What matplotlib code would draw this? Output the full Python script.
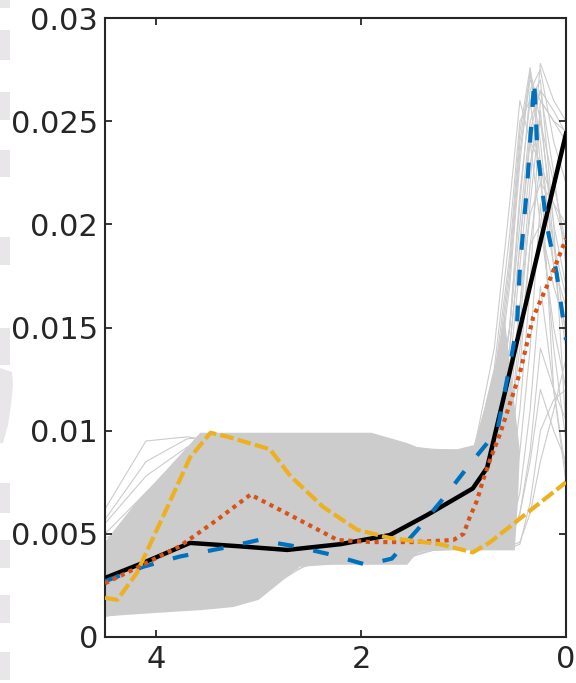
import numpy as np
import matplotlib.pyplot as plt
from matplotlib.patches import Rectangle, Polygon

# mean / model curves (values in units of 1e-3)
x_black = [4.5, 4.13, 3.67, 3.2, 2.72, 2.2, 1.72, 1.36, 0.91, 0.77, 0.0]
y_black = [2.86, 3.59, 4.56, 4.4, 4.22, 4.5, 4.94, 5.9, 7.2, 8.2, 24.4]

x_blue = [4.5, 4.13, 3.77, 3.36, 3.0, 2.65, 2.3, 1.95, 1.7, 1.45, 1.2, 0.95, 0.67,
          0.48, 0.45, 0.38, 0.33, 0.31, 0.28, 0.19, 0.09, 0.0]
y_blue = [2.7, 3.4, 3.9, 4.3, 4.7, 4.4, 4.0, 3.5, 3.8, 5.2, 6.7, 8.3, 10.0,
          15.0, 17.9, 21.8, 25.5, 27.0, 23.6, 20.0, 17.6, 14.4]

x_orange = [4.5, 4.13, 3.77, 3.4, 3.08, 2.69, 2.23, 1.9, 1.5, 1.1, 1.0, 0.94, 0.87,
            0.81, 0.74, 0.64, 0.45, 0.32, 0.16, 0.0]
y_orange = [2.6, 3.5, 4.4, 5.7, 6.9, 5.9, 4.7, 4.6, 4.6, 4.7, 5.0, 5.8, 6.6,
            7.6, 8.6, 9.9, 12.8, 15.5, 17.3, 19.3]

x_yellow = [4.5, 4.38, 4.19, 3.9, 3.67, 3.47, 3.3, 2.89, 2.69, 2.37, 2.04, 1.72,
            1.23, 0.91, 0.74, 0.0]
y_yellow = [1.9, 1.8, 3.1, 6.2, 8.7, 9.9, 9.7, 9.1, 7.8, 6.3, 5.2, 4.8,
            4.5, 4.1, 4.6, 7.5]

# dense gray band of samples: upper edge and lower edge
top_x = [4.5, 4.2, 3.9, 3.57, 3.25, 2.86, 2.6, 2.3, 1.9, 1.55, 1.45, 1.33, 1.06, 0.9,
         0.8, 0.7, 0.6]
top_y = [4.6, 6.5, 8.1, 9.9, 9.9, 9.9, 9.9, 9.9, 9.9, 9.4, 9.2, 9.1, 9.1, 9.3,
         11.0, 13.0, 15.5]
bot_x = [4.5, 4.2, 3.9, 3.57, 3.25, 3.0, 2.8, 2.6, 2.3, 1.9, 1.55, 1.45, 1.33, 1.06,
         0.8, 0.5, 0.47, 0.45]
bot_y = [1.0, 1.1, 1.2, 1.3, 1.45, 1.8, 2.6, 3.4, 3.5, 3.5, 3.5, 4.1, 4.2, 4.2,
         4.2, 4.2, 6.5, 9.0]

# individual gray samples
gx = [4.5, 4.1, 3.7, 3.3, 2.9, 2.5, 2.1, 1.7, 1.3, 0.9, 0.7, 0.55, 0.45, 0.35, 0.25, 0.12, 0.0]
gray_lines = [
    [5.7, 8.5, 9.6, 9.8, 9.7, 9.6, 9.5, 9.0, 8.8, 8.5, 10.5, 15.0, 20.0, 25.0, 26.5, 25.5, 24.4],
    [6.2, 9.5, 9.7, 9.4, 9.0, 8.5, 8.2, 8.0, 7.5, 7.0, 9.0, 13.0, 18.0, 23.0, 25.0, 22.0, 19.0],
    [5.0, 7.0, 8.8, 9.5, 9.2, 8.8, 8.5, 8.2, 8.0, 7.6, 9.5, 15.0, 21.0, 26.5, 27.5, 24.0, 22.0],
    [4.8, 5.5, 7.5, 9.0, 9.6, 9.7, 9.7, 9.4, 9.0, 8.8, 12.0, 18.0, 24.0, 27.3, 24.0, 18.0, 14.0],
    [4.2, 5.0, 6.5, 8.0, 8.5, 8.0, 7.5, 7.0, 6.5, 6.0, 7.5, 11.0, 16.0, 22.0, 27.8, 26.0, 25.0],
    [3.8, 4.8, 6.0, 7.0, 7.5, 7.2, 7.0, 6.8, 6.0, 5.5, 6.5, 10.0, 15.0, 21.0, 25.5, 19.0, 14.5],
    [3.0, 4.0, 5.0, 6.0, 6.5, 6.5, 6.3, 6.0, 5.5, 5.0, 6.0, 8.5, 13.0, 19.0, 23.0, 21.0, 19.0],
    [2.5, 3.5, 4.5, 5.0, 5.5, 5.5, 5.3, 5.2, 5.0, 4.8, 5.2, 7.0, 11.0, 17.0, 26.0, 25.0, 24.0],
    [2.0, 3.0, 3.8, 4.2, 4.5, 4.6, 4.5, 4.4, 4.5, 4.5, 5.0, 6.0, 9.0, 14.0, 21.0, 14.0, 9.5],
    [1.5, 2.2, 3.0, 3.5, 3.8, 4.0, 4.0, 4.0, 4.3, 4.4, 4.5, 5.0, 7.0, 11.0, 17.0, 12.0, 7.5],
    [1.2, 1.8, 2.5, 3.0, 3.5, 3.7, 3.8, 3.8, 4.2, 4.3, 4.3, 4.3, 4.5, 6.5, 10.0, 11.5, 12.0],
    [1.1, 1.5, 2.0, 2.3, 3.4, 3.6, 3.6, 3.6, 4.2, 4.3, 4.4, 4.5, 6.0, 9.0, 14.0, 12.0, 10.5],
    [5.5, 7.8, 9.2, 9.6, 9.8, 9.8, 9.8, 9.3, 9.1, 9.0, 11.0, 17.0, 23.0, 27.5, 25.0, 20.0, 17.0],
    [4.5, 6.0, 8.0, 9.0, 9.3, 9.5, 9.6, 9.3, 9.0, 8.5, 10.0, 14.0, 19.0, 24.0, 23.0, 19.0, 16.5],
    [3.5, 4.5, 5.5, 6.5, 7.5, 8.5, 9.0, 8.5, 7.5, 7.0, 8.5, 12.0, 16.0, 20.5, 22.0, 21.0, 20.0],
    [2.8, 3.5, 4.5, 5.5, 6.0, 7.0, 8.0, 7.5, 6.5, 6.0, 7.0, 10.0, 14.0, 19.0, 20.0, 15.0, 12.0],
    [4.0, 6.5, 9.0, 9.5, 9.4, 9.2, 9.0, 9.0, 9.0, 9.0, 14.0, 21.0, 26.0, 24.0, 20.0, 17.0, 15.0],
    [1.0, 1.3, 1.6, 1.9, 2.4, 3.6, 3.7, 3.8, 4.3, 4.4, 4.4, 4.4, 4.6, 6.0, 8.5, 11.0, 13.5],
    [1.1, 1.4, 1.7, 2.1, 2.8, 3.5, 3.6, 3.7, 4.2, 4.4, 4.6, 4.8, 6.0, 8.5, 12.0, 10.0, 8.5],
    [3.2, 4.2, 5.2, 6.0, 6.8, 7.5, 8.0, 8.2, 8.5, 8.8, 13.0, 19.5, 25.0, 26.0, 22.0, 18.0, 16.0],
    [2.2, 3.2, 4.0, 4.8, 5.2, 5.6, 6.0, 6.5, 7.0, 7.5, 11.5, 17.5, 23.5, 27.0, 26.0, 25.0, 24.5],
    [1.8, 2.6, 3.4, 4.0, 4.4, 4.8, 5.2, 5.5, 6.0, 6.5, 9.5, 15.0, 21.5, 26.0, 27.0, 20.0, 10.0],
    [4.0, 5.0, 6.0, 7.0, 8.0, 8.5, 8.8, 9.0, 8.8, 8.5, 12.5, 18.5, 24.5, 27.6, 23.0, 12.0, 8.0],
    [2.6, 3.4, 4.2, 4.8, 5.4, 6.0, 6.6, 7.0, 7.2, 7.4, 10.0, 14.0, 19.0, 24.5, 26.5, 22.5, 18.0],
]

# faint marks along the left page edge (pixel rows)
edge_blocks = [(0, 8), (30, 60), (92, 120), (150, 177), (237, 265), (328, 365),
               (483, 513), (540, 568), (595, 623), (652, 680)]

W, H = 576, 683
fig = plt.figure(figsize=(W / 100, H / 100), dpi=100)
for y0, y1 in edge_blocks:
    fig.patches.append(Rectangle((0, 1 - y1 / H), 10 / W, (y1 - y0) / H,
                                 transform=fig.transFigure, color='#e8e6e8', lw=0))
arc = [(0, 368), (12, 372), (13, 385), (11, 405), (8, 425), (3, 443), (0, 443)]
fig.patches.append(Polygon([(px / W, 1 - py / H) for px, py in arc],
                           transform=fig.transFigure, color='#e8e6e8', lw=0))

ax = fig.add_axes([105 / W, 46 / H, 461 / W, 619 / H])
s = 1e-3
gray = '#cccccc'
ax.fill(np.r_[top_x, bot_x[::-1]], np.r_[top_y, bot_y[::-1]] * s, color=gray, lw=0, zorder=1)
for g in gray_lines:
    ax.plot(gx, np.array(g) * s, color=gray, lw=0.8, zorder=1)

ax.plot(x_black, np.array(y_black) * s, color='k', lw=3.2, zorder=3)
ax.plot(x_blue, np.array(y_blue) * s, color='#0072BD', lw=3, dashes=(3.8, 4.8), zorder=4)
ax.plot(x_orange, np.array(y_orange) * s, color='#D95319', lw=3, dashes=(1, 1.1), zorder=5)
ax.plot(x_yellow, np.array(y_yellow) * s, color='#EDB120', lw=3, dashes=(3.3, 1.0), zorder=6)

ax.set_xlim(4.5, 0)
ax.set_ylim(0, 0.03)
ax.set_xticks([4, 2, 0])
ax.set_xticklabels(['4', '2', '0'])
ax.set_yticks([0, 0.005, 0.01, 0.015, 0.02, 0.025, 0.03])
ax.set_yticklabels(['0', '0.005', '0.01', '0.015', '0.02', '0.025', '0.03'])
ax.tick_params(direction='in', length=5, width=1.3, colors='#262626', labelsize=22,
               top=True, right=True, pad=5)
ax.tick_params(axis='x', pad=6)
for sp in ax.spines.values():
    sp.set_color('#262626')
    sp.set_linewidth(1.5)

fig.savefig('out.png', dpi=100)
